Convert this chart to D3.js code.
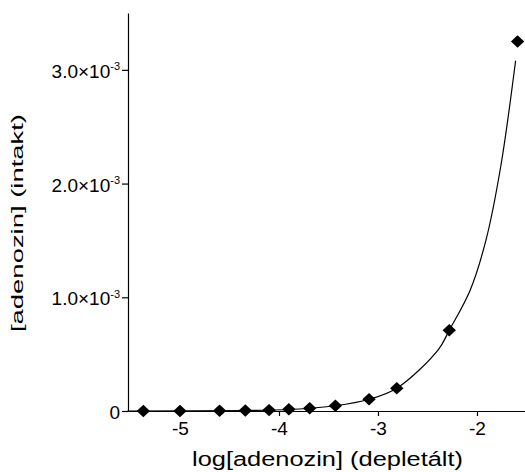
<!DOCTYPE html>
<html>
<head>
<meta charset="utf-8">
<script src="https://cdn.jsdelivr.net/npm/d3@7"></script>
<style>
    body { margin: 0; background: #fff; }
    svg { display: block; font-family: "Liberation Sans", Arial, sans-serif; }
</style>
</head>
<body>
<svg id="chart" width="525" height="472"></svg>
<script>
/* Data */
/* **** */
var pointsX = [-5.37, -5.0, -4.60, -4.34, -4.10, -3.90, -3.69, -3.43, -3.09, -2.81, -2.28, -1.59];
var pointsY = [0, 0, 0.002e-3, 0.004e-3, 0.008e-3, 0.015e-3, 0.024e-3, 0.046e-3, 0.103e-3, 0.20e-3, 0.71e-3, 3.25e-3];

// fitted curve
var curveX = [-5.53, -4.34, -3.89, -3.43, -3.09, -2.81, -2.39, -2.28, -2.07, -1.91, -1.76, -1.61];
var curveY = [0, 0.004e-3, 0.013e-3, 0.046e-3, 0.103e-3, 0.20e-3, 0.54e-3, 0.71e-3, 1.06e-3, 1.50e-3, 2.15e-3, 3.08e-3];

var xTicks = [-5, -4, -3, -2];
var yTicks = [0, 1e-3, 2e-3, 3e-3];
var yTickMantissa = ['0', '1.0\u00d710', '2.0\u00d710', '3.0\u00d710'];
var yTickExponent = ['', '-3', '-3', '-3'];

var xTitle = 'log[adenozin] (depletált)';
var yTitle = '[adenozin] (intakt)';


/* Scales */
/* ****** */
var svg = d3.select('#chart');

var x = d3.scaleLinear()
    .domain([-5.525, -1.515])
    .range([128, 525]);

var y = d3.scaleLinear()
    .domain([0, 3.5e-3])
    .range([411, 13]);


/* Axes */
/* **** */
var xAxis = svg.append('g')
    .attr('transform', 'translate(0,' + y(0) + ')')
    .call(d3.axisBottom(x)
        .tickValues(xTicks)
        .tickSize(5)
        .tickSizeOuter(0)
        .tickPadding(6)
        .tickFormat(function (d) { return String(d); }));

xAxis.selectAll('text')
    .attr('font-size', 19)
    .attr('fill', '#000')
    .attr('font-family', null);

var yAxis = svg.append('g')
    .attr('transform', 'translate(' + x.range()[0] + ',0)')
    .call(d3.axisLeft(y)
        .tickValues(yTicks)
        .tickSize(6)
        .tickSizeOuter(0)
        .tickFormat(''));

yAxis.selectAll('.tick')
    .append('text')
    .attr('x', -8)
    .attr('dy', '0.4em')
    .attr('text-anchor', 'end')
    .attr('font-size', 19)
    .attr('fill', '#000')
    .each(function (d, i) {
        var t = d3.select(this);
        t.append('tspan').text(yTickMantissa[i]);
        if (yTickExponent[i]) {
            t.append('tspan')
                .attr('dy', -7.5)
                .attr('font-size', 11)
                .text(yTickExponent[i]);
        }
    });

svg.selectAll('.domain, .tick line')
    .attr('stroke', '#000')
    .attr('stroke-width', 1.2);

// axis titles
svg.append('text')
    .attr('x', 192)
    .attr('y', 466)
    .attr('font-size', 20)
    .attr('textLength', 271)
    .attr('lengthAdjust', 'spacingAndGlyphs')
    .text(xTitle);

svg.append('text')
    .attr('transform', 'translate(23,332) rotate(-90)')
    .attr('font-size', 17)
    .attr('textLength', 218)
    .attr('lengthAdjust', 'spacingAndGlyphs')
    .text(yTitle);


/* Curve and points */
/* **************** */
var line = d3.line()
    .x(function (d) { return x(d[0]); })
    .y(function (d) { return y(d[1]); })
    .curve(d3.curveCatmullRom.alpha(0.5));

svg.append('path')
    .datum(d3.zip(curveX, curveY))
    .attr('d', line)
    .attr('fill', 'none')
    .attr('stroke', '#000')
    .attr('stroke-width', 1.2);

var diamond = 'M0,-6.2L6.7,0L0,6.2L-6.7,0Z';

svg.append('g')
    .selectAll('path')
    .data(d3.zip(pointsX, pointsY))
    .enter()
    .append('path')
    .attr('d', diamond)
    .attr('transform', function (d) { return 'translate(' + x(d[0]) + ',' + y(d[1]) + ')'; })
    .attr('fill', '#000');
</script>
</body>
</html>
